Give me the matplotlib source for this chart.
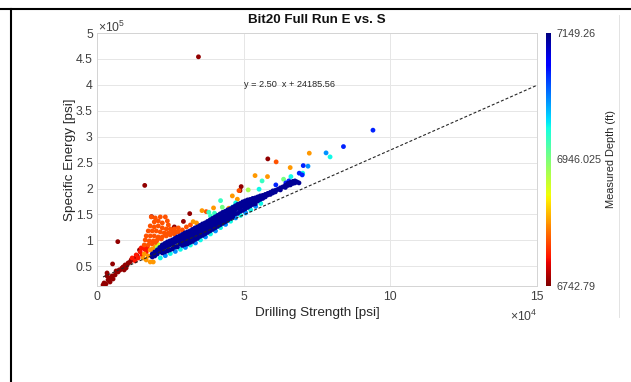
import numpy as np
import matplotlib
matplotlib.use("Agg")
import matplotlib.pyplot as plt
from matplotlib.lines import Line2D

plt.rcParams['font.family'] = ['Liberation Sans', 'DejaVu Sans']
plt.rcParams['mathtext.fontset'] = 'custom'
plt.rcParams['mathtext.rm'] = 'Liberation Sans'
plt.rcParams['mathtext.it'] = 'Liberation Sans:italic'

# ---------------- data (Drilling Strength [psi], Specific Energy [psi]) ----------------
depth_min, depth_mid, depth_max = 6742.79, 6946.025, 7149.26
fit_slope, fit_intercept = 2.50, 24185.56

dark_red_pts = [(2060, 13900), (2400, 17760), (3080, 15840), (3770, 23560), (4450, 27430),
                (3430, 31290), (5140, 31290), (6170, 33220), (3430, 37080), (7190, 39010),
                (7530, 42880), (8560, 46730), (8910, 48660), (9590, 52520), (10280, 52520),
                (10620, 56380), (11300, 58310), (11650, 62170), (12330, 64100), (13020, 66030),
                (13700, 69900), (7880, 42880), (9250, 42880), (9930, 46730), (6510, 40940),
                (4450, 19700), (5480, 25490),
                (5310, 54450), (7090, 97490), (14490, 81480), (16270, 206000), (18600, 145750),
                (31610, 151560), (29460, 136500), (26370, 125880), (49150, 203670),
                (48740, 195950), (58230, 257150), (34590, 454060)]
dark_red_depth = 6750

red_pts = [(11990, 66030), (13360, 71830), (14730, 77620), (16100, 83410), (14040, 66030),
           (15410, 71830), (16780, 77620), (13020, 60240), (15070, 85340), (17130, 85340)]
red_depth = 6790

red_orange_pts = [(18500, 145180), (19870, 143250), (21580, 145180), (23290, 145180),
                  (23980, 137460), (20890, 137460), (19520, 135530), (22260, 133600),
                  (24320, 129740), (18150, 127810), (19520, 125880), (20890, 127810),
                  (22260, 123950), (23630, 122020), (25000, 122020), (17470, 118150),
                  (18840, 118150), (20210, 118150), (21580, 116220), (22950, 114290),
                  (24320, 114290), (25690, 116220), (27060, 116220), (16780, 108500),
                  (18150, 108500), (19520, 108500), (20890, 106570), (22260, 106570),
                  (23630, 108500), (25000, 110430), (26370, 112360), (27740, 116220),
                  (29110, 120080), (16440, 100780), (17810, 98850), (19180, 98850),
                  (20550, 100780), (21920, 102710), (16100, 91130), (17470, 91130),
                  (18840, 93060), (20210, 94990), (30480, 125880), (31850, 129740),
                  (27740, 123950), (26370, 122020),
                  (37230, 155410), (61070, 251360), (48400, 195950)]
red_orange_depth = 6815

orange_pts = [(16100, 73760), (17470, 69900), (16780, 62170), (18150, 58310), (15760, 66030),
              (19180, 58310), (18150, 81480), (19870, 87270), (18840, 83410),
              (35790, 157340), (44970, 161960), (46130, 185720), (47850, 179350),
              (53880, 224920), (58120, 222990), (65860, 240360), (72370, 268150),
              (39730, 162560), (32780, 136100), (33910, 133600)]
orange_depth = 6845

yellow_pts = [(20550, 87270), (19870, 77620), (21240, 91130)]
yellow_depth = 6905

yellow_green_pts = [(51550, 197300)]
yellow_green_depth = 6925

green_pts = [(42710, 163900), (63600, 217950), (20550, 83410)]
green_depth = 6950

cyan_green_pts = [(38700, 147110), (40070, 152330), (42130, 176650), (38120, 154250),
                  (56270, 214670)]
cyan_green_depth = 6980

cyan_pts = [(21580, 66030), (25000, 74530), (28430, 82640), (31850, 90940), (35280, 100780),
            (38700, 112360), (42130, 124530), (45550, 136880), (48980, 148070),
            (52400, 158700), (55830, 171210),
            (55250, 198650), (66100, 223010), (79460, 261000), (70110, 229570),
            (47270, 172210), (46240, 164490)]
cyan_depth = 7000

sky_pts = [(23290, 70480), (26700, 78580), (30140, 86300), (33570, 94990), (36990, 106570),
           (40400, 118150), (43840, 130710), (47270, 143250), (50690, 152900),
           (54100, 165450), (71930, 243050), (78090, 268740)]
sky_depth = 7040

blue_pts = [(68940, 229570), (70310, 244210), (69970, 226260), (84020, 280900),
            (94080, 312520), (65420, 214670), (60970, 206960), (64390, 210820)]
blue_depth = 7085

navy_pts = [(18840, 73760), (18840, 67960),
            (20550, 81480), (20550, 73760),
            (22260, 91130), (22260, 83410), (22260, 75690),
            (23980, 96920), (23980, 89200), (23980, 79550),
            (25690, 100780), (25690, 93060), (25690, 83410),
            (27400, 106570), (27400, 98850), (27400, 87270),
            (29110, 111400), (29110, 103680), (29110, 95960), (29110, 90170),
            (30830, 116220), (30830, 108500), (30830, 100780), (30830, 93060),
            (32540, 121050), (32540, 113320), (32540, 105600), (32540, 97890),
            (34250, 125880), (34250, 118150), (34250, 110430), (34250, 103680),
            (35960, 131670), (35960, 123950), (35960, 116220), (35960, 109470),
            (37680, 136500), (37680, 128780), (37680, 121050), (37680, 115260),
            (39390, 142280), (39390, 134570), (39390, 126840), (39390, 121050),
            (41100, 148070), (41100, 140350), (41100, 132640), (41100, 126840),
            (42810, 153870), (42810, 146140), (42810, 138420), (42810, 132640),
            (44530, 158700), (44530, 150970), (44530, 143250), (44530, 138420),
            (46240, 163520), (46240, 155800), (46240, 148070), (46240, 145180),
            (47950, 169310), (47950, 161590), (47950, 151930),
            (49660, 174140), (49660, 166420), (49660, 157730),
            (51380, 178000), (51380, 170280), (51380, 163520),
            (53090, 180900), (53090, 174140), (53090, 169310),
            (54800, 183790), (54800, 176070),
            (56510, 186690), (56510, 180900),
            (58230, 190550), (58230, 187650),
            (59940, 195380), (59940, 191510),
            (61650, 198270),
            (63360, 203100),
            (65080, 209850), (65080, 205990),
            (66790, 213710), (66790, 209850),
            (68160, 212750),
            (19690, 77620), (19690, 69900),
            (21410, 86300), (21410, 78580),
            (23120, 94020), (23120, 86300), (23120, 77620),
            (24830, 98850), (24830, 91130), (24830, 81480),
            (26540, 103680), (26540, 95960), (26540, 87270),
            (28260, 108500), (28260, 100780), (28260, 93060),
            (29970, 114290), (29970, 106570), (29970, 98850), (29970, 92100),
            (31680, 118150), (31680, 110430), (31680, 102710), (31680, 95960),
            (33400, 123950), (33400, 116220), (33400, 108500), (33400, 101750),
            (35110, 128780), (35110, 121050), (35110, 113320), (35110, 107530),
            (36820, 133600), (36820, 125880), (36820, 118150), (36820, 112360),
            (38530, 139390), (38530, 131670), (38530, 123950), (38530, 118150),
            (40240, 145180), (40240, 137460), (40240, 129740), (40240, 123950),
            (41960, 150970), (41960, 143250), (41960, 135530), (41960, 129740),
            (43670, 155800), (43670, 148070), (43670, 141320), (43670, 135530),
            (45380, 160630), (45380, 152900), (45380, 146140), (45380, 142280),
            (47100, 166420), (47100, 158700), (47100, 150970),
            (48810, 171210), (48810, 163520), (48810, 155800),
            (50520, 176070), (50520, 168350), (50520, 160630),
            (52240, 178970), (52240, 172210), (52240, 166420),
            (53950, 181860), (53950, 175100), (53950, 170280),
            (55660, 185720), (55660, 178970),
            (57370, 188610), (57370, 183790),
            (59080, 192480), (59080, 188610),
            (60800, 196340), (60800, 193440),
            (62510, 201170), (62510, 197300),
            (64220, 205990), (64220, 202130),
            (65930, 211780), (65930, 206960),
            (67480, 214670), (67480, 210820),
            (68850, 210820)]
navy_depth = 7140

x_ticks = [0, 50000, 100000, 150000]
x_tick_labels = ['0', '5', '10', '15']
y_ticks = [50000, 100000, 150000, 200000, 250000, 300000, 350000, 400000, 450000, 500000]
y_tick_labels = ['0.5', '1', '1.5', '2', '2.5', '3', '3.5', '4', '4.5', '5']
cbar_ticks = [depth_min, depth_mid, depth_max]
cbar_tick_labels = ['6742.79', '6946.025', '7149.26']

# ---------------- assemble ----------------
groups = [(dark_red_pts, dark_red_depth), (red_pts, red_depth),
          (red_orange_pts, red_orange_depth), (orange_pts, orange_depth),
          (yellow_pts, yellow_depth), (yellow_green_pts, yellow_green_depth),
          (green_pts, green_depth), (cyan_green_pts, cyan_green_depth),
          (cyan_pts, cyan_depth), (sky_pts, sky_depth), (blue_pts, blue_depth),
          (navy_pts, navy_depth)]
xs, ys, ds = [], [], []
for pts, d in groups:
    for (px, py) in pts:
        xs.append(px); ys.append(py); ds.append(d)
xs = np.array(xs, float); ys = np.array(ys, float); ds = np.array(ds, float)
order = np.argsort(ds, kind='stable')

W, H = 631, 382
fig = plt.figure(figsize=(W / 100, H / 100), dpi=100)

ax = fig.add_axes([97 / W, 1 - 285.7 / H, 440 / W, 252.7 / H])
sc = ax.scatter(xs[order], ys[order], c=ds[order], cmap='jet_r', vmin=depth_min,
                vmax=depth_max, s=12, linewidths=0, zorder=2)

fx = np.array([xs.min(), 150000])
line = Line2D(fx, fit_slope * fx + fit_intercept, color='#262626', lw=0.8, zorder=3)
line.set_dashes([2.7, 1.8])
ax.add_line(line)

ax.text(50000, 400000, 'y = 2.50  x + 24185.56', fontsize=6.6, color='#262626',
        ha='left', va='center')

ax.set_xlim(0, 150000)
ax.set_ylim(12500, 500000)
ax.set_xticks(x_ticks)
ax.set_xticklabels(x_tick_labels)
ax.set_yticks(y_ticks)
ax.set_yticklabels(y_tick_labels)
ax.tick_params(axis='both', length=0, labelsize=8.8, colors='#404040')
ax.tick_params(axis='x', pad=3.5)
ax.tick_params(axis='y', pad=3)
ax.grid(True, color='#e6e6e6', lw=0.7)
ax.set_axisbelow(True)
for s in ax.spines.values():
    s.set_color('#d4d4d4')
    s.set_linewidth(0.7)

# exponent labels (MATLAB style)
fig.text(98 / W, 1 - 27 / H, r'$\times10^{5}$', fontsize=8.8, color='#404040',
         ha='left', va='center')
fig.text(537 / W, 1 - 316 / H, r'$\times10^{4}$', fontsize=8.8, color='#404040',
         ha='right', va='center')

# labels and title
fig.text(317 / W, 1 - 313 / H, 'Drilling Strength [psi]', fontsize=9.7, color='#262626',
         ha='center', va='center')
fig.text(70 / W, 1 - 159.4 / H, 'Specific Energy [psi]', fontsize=9.7, color='#262626',
         ha='center', va='center', rotation=90)
fig.text(317 / W, 1 - 20 / H, 'Bit20 Full Run E vs. S', fontsize=9.6, fontweight='bold',
         color='#111111', ha='center', va='center')

# colorbar
cax = fig.add_axes([546 / W, 1 - 285.7 / H, 4.5 / W, 252.7 / H])
cb = fig.colorbar(sc, cax=cax)
cb.outline.set_visible(False)
cb.set_ticks(cbar_ticks)
cb.set_ticklabels(cbar_tick_labels)
cax.tick_params(length=0, labelsize=7.8, colors='#404040', pad=4.5)
fig.text(611 / W, 1 - 159.4 / H, 'Measured Depth (ft)', fontsize=7.9, color='#262626',
         ha='center', va='center', rotation=90)

# document frame lines around the figure
fig.add_artist(Line2D([0, 1], [1 - 8.8 / H, 1 - 8.8 / H], transform=fig.transFigure,
                      color='black', lw=1.5))
fig.add_artist(Line2D([10.8 / W, 10.8 / W], [0, 1 - 8.8 / H], transform=fig.transFigure,
                      color='black', lw=1.5))
fig.add_artist(Line2D([618.5 / W, 618.5 / W], [1 - 317 / H, 1 - 15 / H],
                      transform=fig.transFigure, color='#e3e3e3', lw=0.7))

fig.savefig('out.png', dpi=100)
